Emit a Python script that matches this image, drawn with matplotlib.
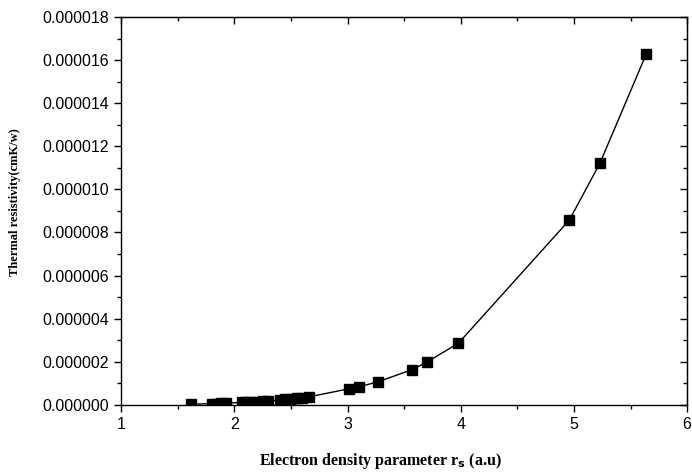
import matplotlib
matplotlib.use("Agg")
import matplotlib.pyplot as plt
from matplotlib.ticker import MultipleLocator, FormatStrFormatter

# electron density parameter rs (a.u) and thermal resistivity (cmK/w)
rs = [1.62, 1.80, 1.85, 1.88, 1.93, 2.07, 2.10, 2.15, 2.20, 2.25, 2.30,
      2.40, 2.45, 2.50, 2.55, 2.60, 2.66, 3.01, 3.10, 3.27, 3.57, 3.70,
      3.98, 4.96, 5.23, 5.64]
resistivity = [0.03e-6, 0.05e-6, 0.06e-6, 0.07e-6, 0.08e-6, 0.11e-6, 0.12e-6,
               0.13e-6, 0.15e-6, 0.16e-6, 0.18e-6, 0.22e-6, 0.25e-6, 0.28e-6,
               0.30e-6, 0.33e-6, 0.37e-6, 0.74e-6, 0.83e-6, 1.07e-6, 1.63e-6,
               1.98e-6, 2.86e-6, 8.58e-6, 11.22e-6, 16.3e-6]

fig = plt.figure(figsize=(6.92, 4.74), dpi=100)
ax = fig.add_axes([0.175, 0.146, 0.818, 0.818])

ax.plot(rs, resistivity, color="black", linewidth=1, marker="s",
        markersize=6.5, markerfacecolor="black", markeredgecolor="black")

ax.set_xlim(1, 6)
ax.set_ylim(0, 0.000018)
ax.xaxis.set_major_locator(MultipleLocator(1))
ax.xaxis.set_minor_locator(MultipleLocator(0.5))
ax.yaxis.set_major_locator(MultipleLocator(0.000002))
ax.yaxis.set_minor_locator(MultipleLocator(0.000001))
ax.yaxis.set_major_formatter(FormatStrFormatter("%.6f"))

ax.tick_params(which="both", direction="out", width=1, labelsize=11.5,
               top=False, right=False)
ax.tick_params(which="major", length=5)
ax.tick_params(which="minor", length=3)
for lbl in ax.get_xticklabels() + ax.get_yticklabels():
    lbl.set_fontfamily("Liberation Sans")

# inward ticks on top and right, outward on bottom and left (Origin style)
sec_x = ax.secondary_xaxis("top")
sec_x.xaxis.set_major_locator(MultipleLocator(1))
sec_x.xaxis.set_minor_locator(MultipleLocator(0.5))
sec_x.tick_params(which="both", direction="in", labeltop=False, width=1)
sec_x.tick_params(which="major", length=5)
sec_x.tick_params(which="minor", length=3)
sec_y = ax.secondary_yaxis("right")
sec_y.yaxis.set_major_locator(MultipleLocator(0.000002))
sec_y.yaxis.set_minor_locator(MultipleLocator(0.000001))
sec_y.tick_params(which="both", direction="in", labelright=False, width=1)
sec_y.tick_params(which="major", length=5)
sec_y.tick_params(which="minor", length=3)

for sp in ax.spines.values():
    sp.set_linewidth(1)

ax.set_xlabel(r"Electron density parameter r$_\mathbf{s}$ (a.u)",
              fontfamily="Liberation Serif", fontweight="bold", fontsize=11.5)
ax.xaxis.set_label_coords(0.458, -0.12)
ax.set_ylabel("Thermal resistivity(cmK/w)", fontfamily="Liberation Serif",
              fontweight="bold", fontsize=9)
ax.yaxis.set_label_coords(-0.177, 0.523)

plt.savefig("out.png", dpi=100)
